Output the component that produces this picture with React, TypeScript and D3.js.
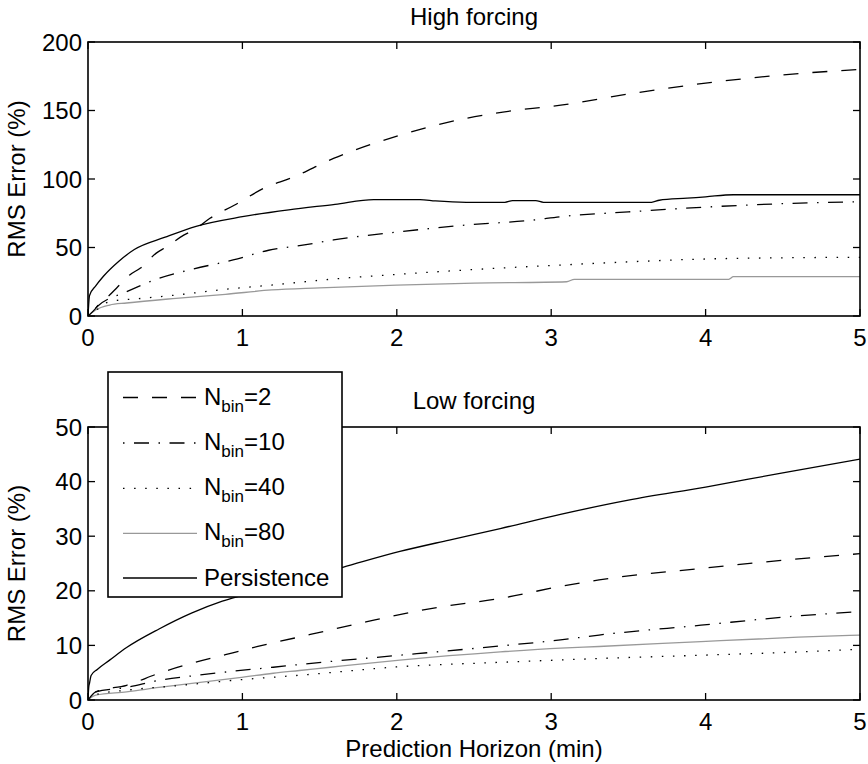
import React from "react";
import * as d3 from "d3";

// ---- Data ----
const xTicks = [0, 1, 2, 3, 4, 5];
const highYTicks = [0, 50, 100, 150, 200];
const lowYTicks = [0, 10, 20, 30, 40, 50];

// High forcing panel: [horizon (min), RMS error (%)]
const highN2: [number, number][] = [
  [0, 0], [0.05, 5.6], [0.08, 10], [0.14, 15.3], [0.19, 21], [0.27, 30], [0.34, 35],
  [0.44, 45.7], [0.51, 50.6], [0.62, 59], [0.69, 63], [0.79, 71.3], [0.95, 81],
  [1.16, 94.4], [1.31, 100.5], [1.59, 115], [2.02, 132], [2.45, 144.3], [2.88, 151.6],
  [3.0, 153], [3.5, 162], [4.0, 170], [4.5, 176], [5.0, 180],
];
const highN10: [number, number][] = [
  [0, 0], [0.06, 7], [0.25, 17.7], [0.46, 27.5], [0.67, 34], [0.94, 40.9], [1.17, 48],
  [1.38, 51.5], [1.59, 55.5], [2.02, 61.5], [2.45, 66.4], [2.88, 70], [3.06, 72.5],
  [3.5, 76], [4.0, 79.5], [4.5, 82], [5.0, 83.4],
];
const highN40: [number, number][] = [
  [0, 0], [0.05, 4], [0.14, 10.5], [0.35, 12.9], [0.57, 15.3], [0.89, 19.5], [1.19, 22.6],
  [1.59, 27], [2.02, 30.5], [2.45, 33.6], [3.06, 37.2], [3.5, 39.5], [3.93, 41.4],
  [4.5, 42.5], [5.0, 42.8],
];
const highN80: [number, number][] = [
  [0, 0], [0.05, 4.4], [0.14, 8], [0.25, 9.5], [0.57, 12.9], [0.89, 15.8], [1.19, 19],
  [1.5, 20.5], [2.0, 22.5], [2.5, 24], [3.1, 25], [3.15, 26.8], [4.15, 26.8], [4.18, 28.7],
  [5.0, 28.7],
];
const highPersistence: [number, number][] = [
  [0, 0], [0.01, 15], [0.05, 22], [0.1, 29], [0.2, 40], [0.3, 48.5], [0.5, 57.5],
  [0.7, 65.5], [1.0, 72.5], [1.3, 77.5], [1.6, 81.5], [1.85, 85], [2.15, 85], [2.25, 84],
  [2.45, 83], [2.7, 83], [2.75, 84.2], [2.9, 84.2], [2.95, 83], [3.65, 83], [3.7, 84.5],
  [3.88, 86], [4.0, 87], [4.18, 88.5], [5.0, 88.5],
];

// Low forcing panel
const lowN2: [number, number][] = [
  [0, 0], [0.05, 1.5], [0.25, 2.7], [0.46, 4.9], [0.67, 6.7], [0.89, 8.3], [1.1, 9.8],
  [1.44, 12], [1.8, 14.3], [2.23, 16.8], [2.67, 18.6], [3.06, 20.8], [3.31, 22],
  [3.97, 24.1], [4.5, 25.6], [5.0, 26.8],
];
const lowN10: [number, number][] = [
  [0, 0], [0.05, 1.5], [0.25, 2.3], [0.46, 3.6], [0.67, 4.4], [0.95, 5.3], [1.2, 6.0],
  [1.37, 6.5], [1.55, 7.0], [2.02, 8.2], [2.67, 9.9], [3.06, 11], [3.31, 11.9],
  [3.97, 13.7], [4.6, 15.4], [5.0, 16.2],
];
const lowN40: [number, number][] = [
  [0, 0], [0.05, 1], [0.25, 1.8], [0.57, 2.6], [0.98, 3.7], [1.4, 4.6], [2.02, 6.1],
  [2.67, 6.9], [3.31, 7.6], [3.97, 8.2], [4.6, 8.8], [5.0, 9.3],
];
const lowN80: [number, number][] = [
  [0, 0], [0.05, 0.9], [0.25, 1.5], [0.46, 2.3], [0.78, 3.4], [0.98, 4.1], [1.2, 4.9],
  [1.37, 5.4], [1.57, 6.0], [2.02, 7.3], [2.67, 8.8], [3.06, 9.5], [3.31, 9.8],
  [3.97, 10.7], [4.6, 11.5], [5.0, 11.9],
];
const lowPersistence: [number, number][] = [
  [0, 0], [0.005, 2.4], [0.01, 3.1], [0.02, 4.5], [0.06, 5.6], [0.14, 7.3], [0.25, 9.6],
  [0.46, 13.0], [0.67, 15.9], [0.87, 18.1], [1.0, 19.2], [1.3, 21.6], [1.65, 24.3],
  [2.02, 27.2], [2.34, 29.3], [2.67, 31.4], [3.06, 34.0], [3.5, 36.6], [4.0, 39],
  [4.5, 41.6], [5.0, 44.1],
];

const legendLabels = ["2", "10", "40", "80"];

// ---- Styles ----
const FONT = "'Liberation Sans', Arial, Helvetica, sans-serif";
type Style = { color: string; dash: string; width: number };
const STYLES: Record<string, Style> = {
  n2: { color: "#000", dash: "15,14", width: 1.3 },
  n10: { color: "#000", dash: "1.5,9.5,15,9.5", width: 1.3 },
  n40: { color: "#000", dash: "1.5,9.6", width: 1.3 },
  n80: { color: "#999", dash: "none", width: 1.3 },
  pers: { color: "#000", dash: "none", width: 1.3 },
};

const X0 = 88;
const X1 = 860;

function Panel(props: {
  top: number;
  bottom: number;
  yMax: number;
  yTicks: number[];
  title: string;
  titleY: number;
  series: { data: [number, number][]; key: string }[];
}) {
  const { top, bottom, yMax, yTicks, title, titleY, series } = props;
  const x = d3.scaleLinear().domain([0, 5]).range([X0, X1]);
  const y = d3.scaleLinear().domain([0, yMax]).range([bottom, top]);
  const line = d3
    .line<[number, number]>()
    .x((d) => x(d[0]))
    .y((d) => y(d[1]))
    .curve(d3.curveMonotoneX);
  const tl = 7;
  return (
    <g>
      <text x={(X0 + X1) / 2} y={titleY} textAnchor="middle" fontSize={24} fontFamily={FONT}>
        {title}
      </text>
      <defs>
        <clipPath id={`clip-${top}`}>
          <rect x={X0} y={top} width={X1 - X0} height={bottom - top} />
        </clipPath>
      </defs>
      <g clipPath={`url(#clip-${top})`}>
        {series.map((s) => {
          const st = STYLES[s.key];
          return (
            <path
              key={s.key}
              d={line(s.data) || ""}
              fill="none"
              stroke={st.color}
              strokeWidth={st.width}
              strokeDasharray={st.dash}
            />
          );
        })}
      </g>
      {xTicks.map((t) => (
        <g key={"xt" + t}>
          <line x1={x(t)} x2={x(t)} y1={bottom} y2={bottom - tl} stroke="#000" strokeWidth={1.3} />
          <line x1={x(t)} x2={x(t)} y1={top} y2={top + tl} stroke="#000" strokeWidth={1.3} />
          <text x={x(t)} y={bottom + 30} textAnchor="middle" fontSize={24} fontFamily={FONT}>
            {t}
          </text>
        </g>
      ))}
      {yTicks.map((t) => (
        <g key={"yt" + t}>
          <line x1={X0} x2={X0 + tl} y1={y(t)} y2={y(t)} stroke="#000" strokeWidth={1.3} />
          <line x1={X1} x2={X1 - tl} y1={y(t)} y2={y(t)} stroke="#000" strokeWidth={1.3} />
          <text x={82} y={y(t) + 8.5} textAnchor="end" fontSize={24} fontFamily={FONT}>
            {t}
          </text>
        </g>
      ))}
      <rect x={X0} y={top} width={X1 - X0} height={bottom - top} fill="none" stroke="#000" strokeWidth={1.6} />
      <text
        transform={`translate(25,${(top + bottom) / 2}) rotate(-90)`}
        textAnchor="middle"
        fontSize={24}
        fontFamily={FONT}
      >
        RMS Error (%)
      </text>
    </g>
  );
}

function Legend() {
  const keys = ["n2", "n10", "n40", "n80", "pers"];
  const rowY = [397.5, 443, 488.3, 533.3, 578];
  return (
    <g>
      <rect x={108} y={372} width={234} height={225} fill="#fff" stroke="#000" strokeWidth={1.6} />
      {keys.map((k, i) => {
        const st = STYLES[k];
        return (
          <g key={k}>
            <line
              x1={123}
              x2={197}
              y1={rowY[i]}
              y2={rowY[i]}
              stroke={st.color}
              strokeWidth={st.width}
              strokeDasharray={st.dash}
            />
            {i < 4 ? (
              <text x={204} y={rowY[i] + 7} fontSize={24} fontFamily={FONT}>
                N
                <tspan fontSize={17} dy={7}>
                  bin
                </tspan>
                <tspan dy={-7}>={legendLabels[i]}</tspan>
              </text>
            ) : (
              <text x={204} y={rowY[i] + 8} fontSize={24} fontFamily={FONT}>
                Persistence
              </text>
            )}
          </g>
        );
      })}
    </g>
  );
}

export default function App() {
  return (
    <svg
      width={868}
      height={764}
      style={{ position: "absolute", left: 0, top: 0, background: "#fff" }}
    >
      <rect width={868} height={764} fill="#fff" />
      <Panel
        top={42}
        bottom={316}
        yMax={200}
        yTicks={highYTicks}
        title="High forcing"
        titleY={25}
        series={[
          { data: highN80, key: "n80" },
          { data: highN40, key: "n40" },
          { data: highN10, key: "n10" },
          { data: highN2, key: "n2" },
          { data: highPersistence, key: "pers" },
        ]}
      />
      <Panel
        top={427}
        bottom={700}
        yMax={50}
        yTicks={lowYTicks}
        title="Low forcing"
        titleY={409}
        series={[
          { data: lowN80, key: "n80" },
          { data: lowN40, key: "n40" },
          { data: lowN10, key: "n10" },
          { data: lowN2, key: "n2" },
          { data: lowPersistence, key: "pers" },
        ]}
      />
      <Legend />
      <text x={474} y={757} textAnchor="middle" fontSize={24} fontFamily={FONT}>
        Prediction Horizon (min)
      </text>
    </svg>
  );
}
